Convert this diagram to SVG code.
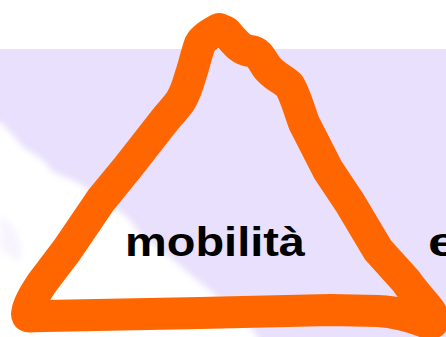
<svg xmlns="http://www.w3.org/2000/svg" width="446" height="337" viewBox="0 0 446 337">
  <defs>
    <filter id="soft" x="-20%" y="-20%" width="140%" height="140%">
      <feGaussianBlur stdDeviation="3"/>
    </filter>
  </defs>
  <style>
    .lbl { font-family: "Liberation Sans", Arial, sans-serif; font-weight: bold; font-size: 41px; fill: #000000; }
    .stroke { fill: none; stroke: #FF6600; stroke-width: 32; stroke-linejoin: round; stroke-linecap: round; }
  </style>
  <rect x="0" y="0" width="446" height="337" fill="#FFFFFF"/>
  <rect x="0" y="49" width="446" height="288" fill="#E8E0FC"/>
  <g id="cloud">
    <path d="M-10,122 L0,122 L10,132 L23,147 L43,160 L53,172 L77,182 L100,197 L127,217 L143,237 L170,257 L193,277 L213,293 L253,330 L262,345 L-10,345 Z" fill="#FFFFFF" filter="url(#soft)"/>
    <path d="M0,215 C15,225 25,240 20,262 C10,258 4,250 0,248 Z" fill="#E8E0FC" opacity="0.35" filter="url(#soft)"/>
  </g>
  <g id="triangle">
    <path class="stroke" d="M219,29 C210,34 203,38 200,44 C196,55 194,66 191,74 C188,84 186,92 181,100 C176,108 170,113 164,121 L128,167 L101,200 L67,250 L42,283 C34,295 28,305 27,314 C27,318 30,316 45,316 L200,313 L330,310 L378,311 C400,312 415,318 425,322 C438,327 434,315 427,307 C418,296 412,290 406,281 L378,250 L350,203 L328,170 L304,123 C298,106 294,92 289,85 C281,78 272,75 266,66 C260,56 258,52 250,51 C240,50 235,42 226,32 Z"/>
  </g>
  <g id="labels">
    <text class="lbl" x="125" y="256" textLength="180" lengthAdjust="spacingAndGlyphs">mobilità</text>
    <text class="lbl" x="428" y="256" textLength="30" lengthAdjust="spacingAndGlyphs">e</text>
  </g>
</svg>
